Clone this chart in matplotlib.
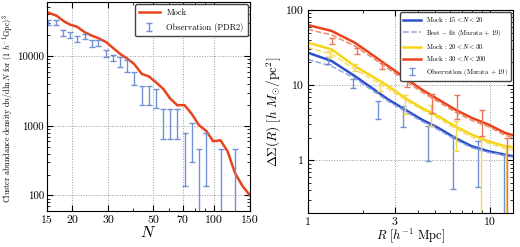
import matplotlib
matplotlib.use("Agg")
import matplotlib.pyplot as plt
from matplotlib.ticker import FixedLocator, FixedFormatter, LogLocator, NullFormatter

plt.rcParams["font.family"] = "serif"
plt.rcParams["font.serif"] = ["cmr10", "DejaVu Serif"]
plt.rcParams["mathtext.fontset"] = "cm"
plt.rcParams["axes.formatter.use_mathtext"] = True

# ---- left panel: abundance ----
mock_n = [15.2, 16.8, 18.2, 19.5, 21.1, 23.1, 24.9, 26.8, 29.4, 31.9, 34.4, 37.4, 40.3,
          44.0, 47.5, 51.7, 56.2, 60.6, 65.7, 71.4, 77.6, 84.1, 91.5, 98.7, 107.3,
          116.2, 126.4, 138.0, 150.0]
mock_abund = [42400, 37900, 31700, 28400, 26500, 22000, 19800, 18200, 15900, 13000,
              10800, 9150, 7750, 5550, 5150, 4210, 3370, 2470, 1980, 1980, 1470, 1020,
              840, 600, 620, 430, 210, 135, 100]

obs_n = [15.2, 16.6, 18.0, 19.4, 21.1, 23.1, 24.9, 26.8, 29.4, 31.9, 34.4, 37.4, 40.3,
         44.0, 47.5, 51.7, 56.2, 60.6, 65.7, 71.4, 77.6, 84.1, 91.5, 107.3, 126.4]
obs_lo = [28400, 28400, 19400, 18200, 15900, 17400, 13500, 14000, 9700, 8400, 6900,
          6000, 3850, 1980, 1980, 1830, 650, 650, 650, 138, 300, 1, 138, 1, 1]
obs_hi = [32800, 32800, 23500, 22200, 19400, 21000, 16900, 16900, 12100, 10400, 9700,
          8700, 6000, 3700, 3700, 3370, 1730, 1730, 1730, 800, 1110, 470, 800, 470, 470]

n_ticks = [15, 20, 30, 50, 70, 100, 150]

# ---- right panel: lensing profiles ----
mock_r = [1.0, 1.35, 1.81, 2.24, 2.76, 3.41, 4.21, 5.2, 6.42, 7.93, 9.8, 12.1, 13.4]
mock_low = [27.0, 20.9, 13.2, 9.2, 6.44, 4.74, 3.49, 2.7, 1.99, 1.54, 1.32, 1.19, 1.13]
mock_mid = [36.6, 29.9, 17.9, 13.2, 9.7, 6.78, 4.99, 3.86, 2.84, 2.2, 1.79, 1.54, 1.5]
mock_high = [63.0, 52.5, 36.6, 25.6, 17.9, 12.5, 8.75, 6.44, 4.74, 3.67, 2.99, 2.31, 2.15]
fit_low = [22.0, 17.8, 12.3, 8.6, 6.1, 4.5, 3.3, 2.55, 1.89, 1.47, 1.27, 1.17, 1.1]
fit_mid = [31.5, 26.0, 16.2, 12.0, 8.9, 6.4, 4.7, 3.6, 2.64, 2.05, 1.68, 1.43, 1.38]
fit_high = [55.0, 46.5, 33.0, 23.5, 16.5, 11.5, 8.1, 6.0, 4.4, 3.4, 2.8, 2.15, 2.0]

obs_r_low = [1.29, 1.78, 2.43, 3.34, 4.58, 6.29, 8.63, 11.9]
obs_lo_low = [18.9, 9.2, 3.49, 2.75, 0.97, 0.41, 0.44, 0.01]
obs_hi_low = [23.6, 11.9, 6.1, 5.25, 2.84, 2.09, 1.79, 1.19]
obs_r_mid = [1.32, 1.82, 2.50, 3.43, 4.72, 6.47, 8.89, 12.2]
obs_lo_mid = [23.6, 15.4, 8.3, 4.07, 2.84, 1.32, 0.01, 0.01]
obs_hi_mid = [28.8, 19.2, 11.5, 7.5, 5.5, 3.31, 1.99, 1.6]
obs_r_high = [1.35, 1.85, 2.54, 3.48, 4.78, 6.56, 9.0, 12.4]
obs_lo_high = [35.6, 26.2, 16.2, 9.4, 4.28, 3.49, 2.09, 0.01]
obs_hi_high = [42.8, 31.5, 19.9, 13.2, 7.66, 7.5, 4.6, 1.99]

BLUE = "#2f50c8"
YELLOW = "#f7d417"
RED = "#e8431c"
OBS_BLUE = "#7290d4"
OBS_YELLOW = "#f3d84e"
OBS_RED = "#ea7556"


def obs_bars(ax, x, lo, hi, color, label=None):
    up = [h - l for l, h in zip(lo, hi)]
    ax.errorbar(x, lo, yerr=[[0] * len(lo), up], fmt="none", ecolor=color,
                elinewidth=1.0, capsize=2, capthick=1.0, label=label)


def style_axes(ax):
    ax.tick_params(which="both", direction="in", top=True, right=True, labelsize=8.5)
    ax.tick_params(which="major", length=4, pad=3)
    ax.tick_params(which="minor", length=2)
    ax.grid(True, which="major", linestyle=":", color="#999999", linewidth=0.7)


fig = plt.figure(figsize=(5.2, 2.47), dpi=100)

# left
ax1 = fig.add_axes([0.090, 0.146, 0.391, 0.846])
ax1.plot(mock_n, mock_abund, color=RED, lw=1.8, label="Mock")
obs_bars(ax1, obs_n, obs_lo, obs_hi, OBS_BLUE, "Observation (PDR2)")
ax1.set_xscale("log")
ax1.set_yscale("log")
ax1.set_xlim(15, 150)
ax1.set_ylim(60, 60000)
ax1.xaxis.set_major_locator(FixedLocator(n_ticks))
ax1.xaxis.set_major_formatter(FixedFormatter([str(t) for t in n_ticks]))
ax1.xaxis.set_minor_locator(LogLocator(subs=range(1, 10)))
ax1.xaxis.set_minor_formatter(NullFormatter())
ax1.yaxis.set_major_locator(FixedLocator([100, 1000, 10000]))
ax1.yaxis.set_major_formatter(FixedFormatter(["100", "1000", "10000"]))
ax1.yaxis.set_minor_formatter(NullFormatter())
style_axes(ax1)
ax1.tick_params(axis="y", labelsize=7.8, pad=2)
ax1.set_xlabel("$N$", fontsize=11.5, labelpad=0)
ax1.set_ylabel(r"Cluster abundance density $\mathrm{d}n/\mathrm{d}\ln N$ for $(1\ h^{-1}\mathrm{Gpc})^3$",
               fontsize=5.8)
ax1.yaxis.set_label_coords(-0.158, 0.49)
leg = ax1.legend(loc="upper right", fontsize=6.1, fancybox=True, framealpha=1,
                 edgecolor="#444444", handlelength=2.4, borderpad=0.5, labelspacing=0.75,
                 borderaxespad=0.25)
leg.get_frame().set_linewidth(1.0)

# right
ax2 = fig.add_axes([0.592, 0.138, 0.395, 0.822])
ax2.plot(mock_r, mock_low, color=BLUE, lw=1.8, label=r"Mock : $15 < N < 20$")
ax2.plot(mock_r, fit_low, color="#8fa6e0", lw=1.1, ls="--",
         label=r"Best $-$ fit (Murata $+$ 19)")
ax2.plot(mock_r, mock_mid, color=YELLOW, lw=1.8, label=r"Mock : $20 < N < 30$")
ax2.plot(mock_r, fit_mid, color="#f6df6a", lw=1.1, ls="--")
ax2.plot(mock_r, mock_high, color=RED, lw=1.8, label=r"Mock : $30 < N < 200$")
ax2.plot(mock_r, fit_high, color="#ee8a6c", lw=1.1, ls="--")
obs_bars(ax2, obs_r_low, obs_lo_low, obs_hi_low, OBS_BLUE, "Observation (Murata $+$ 19)")
obs_bars(ax2, obs_r_mid, obs_lo_mid, obs_hi_mid, OBS_YELLOW)
obs_bars(ax2, obs_r_high, obs_lo_high, obs_hi_high, OBS_RED)
ax2.set_xscale("log")
ax2.set_yscale("log")
ax2.set_xlim(1, 13.4)
ax2.set_ylim(0.2, 100)
ax2.xaxis.set_major_locator(FixedLocator([1, 3, 10]))
ax2.xaxis.set_major_formatter(FixedFormatter(["1", "3", "10"]))
ax2.xaxis.set_minor_locator(LogLocator(subs=range(1, 10)))
ax2.xaxis.set_minor_formatter(NullFormatter())
ax2.yaxis.set_major_locator(FixedLocator([1, 10, 100]))
ax2.yaxis.set_major_formatter(FixedFormatter(["1", "10", "100"]))
ax2.yaxis.set_minor_formatter(NullFormatter())
style_axes(ax2)
ax2.set_xlabel(r"$R\ [h^{-1}\ \mathrm{Mpc}]$", fontsize=9, labelpad=0)
ax2.set_ylabel(r"$\Delta\Sigma(R)\ [h\ M_{\odot}/\mathrm{pc}^2]$", fontsize=9.5, labelpad=2)
leg2 = ax2.legend(loc="upper right", fontsize=4.8, fancybox=True, framealpha=1,
                  edgecolor="#444444", handlelength=2.6, borderpad=0.45, labelspacing=0.5,
                  borderaxespad=0.35)
leg2.get_frame().set_linewidth(1.0)

fig.savefig("out.png", dpi=100)
plt.close(fig)
